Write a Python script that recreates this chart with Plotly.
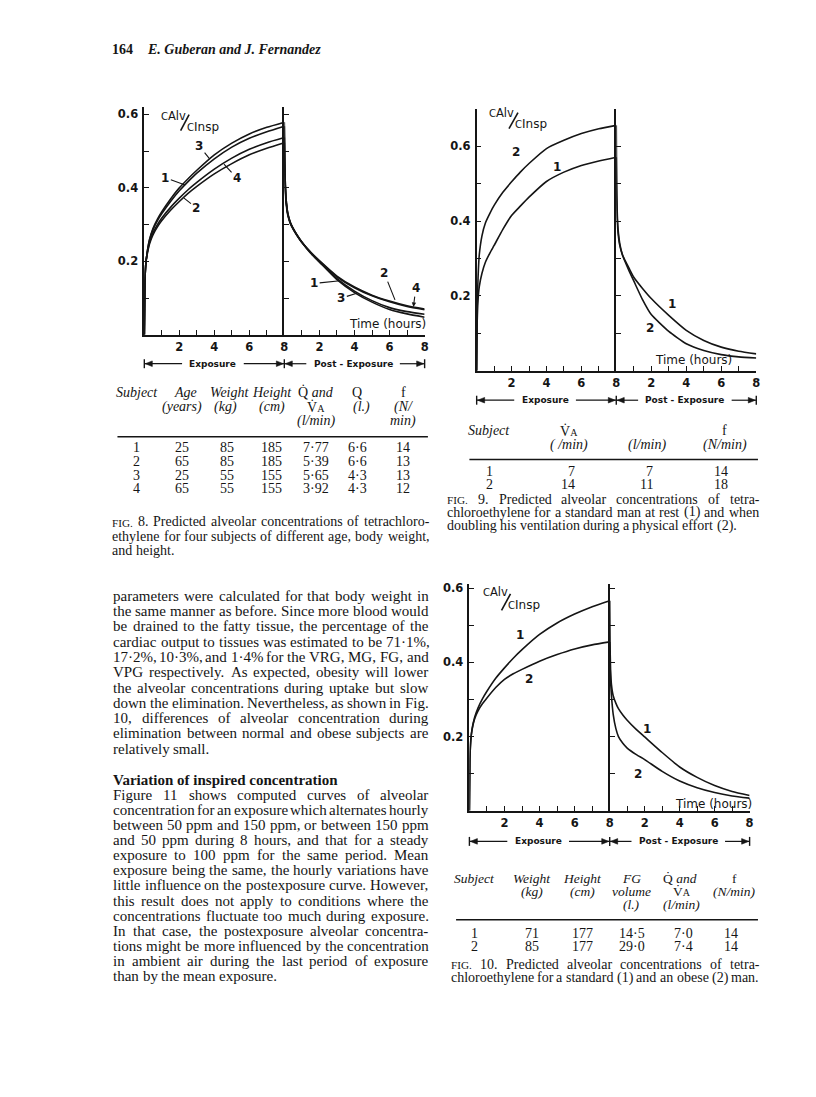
import plotly.graph_objects as go

# The page is photographed with the browser's default 8px body margin,
# so the figure is drawn 8px smaller and all page positions are shifted.
OFF = 8
FIG_W, FIG_H = 808, 1081
INK = "#151515"
SERIF = "Liberation Serif"
SANS = "DejaVu Sans"

# ---------------- data ----------------
exposure_hours = [0, 0.03, 0.08, 0.15, 0.3, 0.5, 0.75, 1, 1.5, 2, 2.5, 3, 4, 5, 6, 7, 8]
post_hours = [0, 0.02, 0.05, 0.1, 0.2, 0.35, 0.5, 0.75, 1, 1.5, 2, 3, 4, 5, 6, 7, 8]

# Fig. 8 - four subjects
fig8_exp_1 = [0, 0.14, 0.19, 0.22, 0.258, 0.287, 0.311, 0.33, 0.363, 0.392, 0.417, 0.44, 0.479, 0.511, 0.535, 0.553, 0.568]
fig8_exp_2 = [0, 0.14, 0.19, 0.215, 0.248, 0.273, 0.294, 0.311, 0.339, 0.363, 0.385, 0.404, 0.438, 0.466, 0.49, 0.508, 0.523]
fig8_exp_3 = [0, 0.14, 0.19, 0.22, 0.26, 0.29, 0.315, 0.335, 0.37, 0.40, 0.425, 0.448, 0.49, 0.522, 0.547, 0.565, 0.579]
fig8_exp_4 = [0, 0.14, 0.19, 0.218, 0.252, 0.278, 0.3, 0.318, 0.347, 0.372, 0.395, 0.415, 0.451, 0.481, 0.505, 0.523, 0.537]
fig8_post_1 = [0.568, 0.48, 0.42, 0.37, 0.33, 0.305, 0.29, 0.27, 0.253, 0.224, 0.2, 0.153, 0.119, 0.093, 0.074, 0.063, 0.056]
fig8_post_2 = [0.523, 0.45, 0.40, 0.36, 0.325, 0.302, 0.288, 0.268, 0.251, 0.224, 0.201, 0.158, 0.128, 0.106, 0.09, 0.077, 0.068]
fig8_post_3 = [0.579, 0.48, 0.42, 0.37, 0.33, 0.305, 0.29, 0.27, 0.252, 0.222, 0.198, 0.15, 0.115, 0.089, 0.069, 0.057, 0.048]
fig8_post_4 = [0.537, 0.46, 0.41, 0.365, 0.328, 0.303, 0.289, 0.269, 0.252, 0.225, 0.202, 0.16, 0.13, 0.108, 0.092, 0.079, 0.07]

# Fig. 9 - rest (1) and doubled ventilation (2)
fig9_exp_1 = [0, 0.13, 0.19, 0.225, 0.26, 0.29, 0.314, 0.335, 0.378, 0.415, 0.44, 0.464, 0.506, 0.531, 0.549, 0.561, 0.571]
fig9_exp_2 = [0, 0.17, 0.25, 0.31, 0.36, 0.395, 0.42, 0.442, 0.477, 0.505, 0.531, 0.554, 0.594, 0.616, 0.634, 0.647, 0.656]
fig9_post_1 = [0.571, 0.47, 0.41, 0.37, 0.335, 0.31, 0.295, 0.272, 0.25, 0.22, 0.193, 0.148, 0.108, 0.081, 0.063, 0.052, 0.045]
fig9_post_2 = [0.656, 0.5, 0.43, 0.38, 0.34, 0.31, 0.292, 0.265, 0.24, 0.19, 0.15, 0.105, 0.072, 0.054, 0.043, 0.037, 0.034]

# Fig. 10 - standard (1) and obese (2) man
fig10_exp_1 = [0, 0.14, 0.19, 0.22, 0.252, 0.278, 0.302, 0.322, 0.357, 0.385, 0.411, 0.434, 0.475, 0.506, 0.53, 0.55, 0.566]
fig10_exp_2 = [0, 0.14, 0.19, 0.218, 0.248, 0.27, 0.289, 0.304, 0.332, 0.354, 0.369, 0.381, 0.403, 0.421, 0.436, 0.447, 0.455]
fig10_post_1 = [0.566, 0.45, 0.38, 0.34, 0.31, 0.29, 0.275, 0.258, 0.244, 0.22, 0.199, 0.157, 0.118, 0.09, 0.068, 0.052, 0.041]
fig10_post_2 = [0.455, 0.4, 0.35, 0.31, 0.26, 0.222, 0.2, 0.182, 0.169, 0.152, 0.138, 0.106, 0.08, 0.062, 0.049, 0.04, 0.034]

hour_tickvals = [1, 2, 3, 4, 5, 6, 7, 8]
hour_ticktext = ["", "2", "", "4", "", "6", "", "8"]
conc_tickvals_6 = [0.1, 0.2, 0.3, 0.4, 0.5, 0.6]
conc_ticktext_6 = ["", "0.2", "", "0.4", "", "0.6"]
conc_tickvals_7 = [0.1, 0.2, 0.3, 0.4, 0.5, 0.6, 0.7]
conc_ticktext_7 = ["", "0.2", "", "0.4", "", "0.6", ""]

# Tables
t8_subject = [1, 2, 3, 4]
t8_age = [25, 65, 25, 65]
t8_weight = [85, 85, 55, 55]
t8_height = [185, 185, 155, 155]
t8_q_va = [7.77, 5.39, 5.65, 3.92]
t8_q = [6.6, 6.6, 4.3, 4.3]
t8_f = [14, 13, 13, 12]

t9_subject = [1, 2]
t9_va = [7, 14]
t9_q = [7, 11]
t9_f = [14, 18]

t10_subject = [1, 2]
t10_weight = [71, 85]
t10_height = [177, 177]
t10_fg = [14.5, 29.0]
t10_q_va = [7.0, 7.4]
t10_f = [14, 14]

# ---------------- helpers ----------------
def px(x):
    return (x - OFF) / FIG_W


def py(y):
    return 1 - (y - OFF) / FIG_H


LOWER = dict(a=444, b=500, c=444, d=500, e=444, f=333, g=500, h=500, i=278, j=278, k=500, l=278, m=778,
             n=500, o=500, p=500, q=500, r=333, s=389, t=278, u=500, v=500, w=722, x=500, y=500, z=444)
UPPER = dict(A=722, B=667, C=667, D=722, E=611, F=556, G=722, H=722, I=333, J=389, K=722, L=611, M=889,
             N=722, O=722, P=556, Q=722, R=667, S=556, T=611, U=722, V=722, W=944, X=722, Y=722, Z=611)
PUNCT = {" ": 250, ".": 250, ",": 250, "-": 333, "(": 333, ")": 333, "%": 833, "\u00b7": 250,
         ":": 278, ";": 278, "'": 333}


def tw(s, size):
    tot = 0
    for ch in s:
        if ch in LOWER:
            tot += LOWER[ch]
        elif ch in UPPER:
            tot += UPPER[ch]
        elif ch.isdigit():
            tot += 500
        else:
            tot += PUNCT.get(ch, 500)
    return tot * size / 1000.0


ann = []
shapes = []


def add_text(x, y, s, size=14, family=SERIF, xanchor="left", color=INK):
    ann.append(dict(x=px(x), y=py(y), xref="paper", yref="paper", text=s, showarrow=False,
                    xanchor=xanchor, yanchor="middle", borderpad=0,
                    font=dict(family=family, size=size, color=color)))


SMALLCAPS = {"FIG."}


def text_line(text, x0, x1, y, size, justify=True):
    words = [w for w in text.split(" ") if w]
    sizes = [size * 0.8 if w in SMALLCAPS else size for w in words]
    widths = [tw(w, s) for w, s in zip(words, sizes)]
    if justify and len(words) > 1:
        gap = (x1 - x0 - sum(widths)) / (len(words) - 1)
    else:
        gap = 0.25 * size
    x = x0
    for w, s, wd in zip(words, sizes, widths):
        add_text(x, y - 1.5 + (0.8 if s < size else 0), w, s)
        x += wd + gap


def hline(x0, x1, y, width=1.4):
    shapes.append(dict(type="line", xref="paper", yref="paper", x0=px(x0), x1=px(x1), y0=py(y), y1=py(y),
                       line=dict(color=INK, width=width)))


def seg(x0, y0, x1, y1, width=1.4):
    shapes.append(dict(type="line", xref="paper", yref="paper", x0=px(x0), x1=px(x1), y0=py(y0), y1=py(y1),
                       line=dict(color=INK, width=width)))


def arrowhead(hx, y, direction):
    # small filled triangle with its tip at (hx, y); direction -1 points left, +1 points right
    bx = hx - direction * 7
    path = (f"M {px(hx)} {py(y)} L {px(bx)} {py(y - 2.8)} L {px(bx)} {py(y + 2.8)} Z")
    shapes.append(dict(type="path", xref="paper", yref="paper", path=path,
                       fillcolor=INK, line=dict(color=INK, width=0.6)))


# ---------------- charts ----------------
fig = go.Figure()

charts = [
    dict(L=145, M=285.7, R=426.7, base=332.7, scale=368.3, ymax=0.62,
         yv=conc_tickvals_6, yt=conc_ticktext_6, row=361.7,
         exp=[fig8_exp_1, fig8_exp_2, fig8_exp_3, fig8_exp_4],
         post=[fig8_post_1, fig8_post_2, fig8_post_3, fig8_post_4],
         time=(389.2, 321.7), calv=(160.5, 113.5), cinsp=(186.5, 124), slash=(181.5, 128, 190, 112)),
    dict(L=479, M=619.3, R=760, base=368.7, scale=375, ymax=0.70,
         yv=conc_tickvals_7, yt=conc_ticktext_7, row=398.3,
         exp=[fig9_exp_1, fig9_exp_2], post=[fig9_post_1, fig9_post_2],
         time=(697.3, 358.3), calv=(490.5, 110.5), cinsp=(516.5, 121.5), slash=(511.5, 126, 520.5, 110)),
    dict(L=471.7, M=612.7, R=753.3, base=810, scale=372.2, ymax=0.61,
         yv=conc_tickvals_6, yt=conc_ticktext_6, row=840.7,
         exp=[fig10_exp_1, fig10_exp_2], post=[fig10_post_1, fig10_post_2],
         time=(717, 803.3), calv=(484, 590.5), cinsp=(509, 603.5), slash=(504, 609, 513, 592.5)),
]

tickfont = dict(family=SANS, size=11.5, color=INK, weight="bold")
layout_axes = {}
for k, c in enumerate(charts):
    top = c["base"] - c["ymax"] * c["scale"]
    ydom = [py(c["base"]), py(top)]
    for j, (x0, x1) in enumerate([(c["L"], c["M"]), (c["M"], c["R"])]):
        idx = 2 * k + j + 1
        xname = "xaxis" if idx == 1 else f"xaxis{idx}"
        yname = "yaxis" if idx == 1 else f"yaxis{idx}"
        xid = "x" if idx == 1 else f"x{idx}"
        yid = "y" if idx == 1 else f"y{idx}"
        layout_axes[xname] = dict(domain=[px(x0), px(x1)], range=[0, 8], anchor=yid,
                                  showline=True, linecolor=INK, linewidth=1.6, showgrid=False, zeroline=False,
                                  ticks="inside", ticklen=5, tickwidth=1.3, tickcolor=INK,
                                  tickmode="array", tickvals=hour_tickvals, ticktext=hour_ticktext,
                                  tickfont=tickfont, ticklabelstandoff=1, fixedrange=True)
        layout_axes[yname] = dict(domain=ydom, range=[0, c["ymax"]], anchor=xid,
                                  showline=True, linecolor=INK, linewidth=1.6, showgrid=False, zeroline=False,
                                  ticks="inside", ticklen=5, tickwidth=1.3, tickcolor=INK,
                                  tickmode="array", tickvals=c["yv"],
                                  ticktext=c["yt"] if j == 0 else [""] * len(c["yv"]),
                                  showticklabels=(j == 0),
                                  tickfont=tickfont, ticklabelstandoff=2, fixedrange=True)
        series = c["exp"] if j == 0 else c["post"]
        hours = exposure_hours if j == 0 else post_hours
        for s in series:
            fig.add_trace(go.Scatter(x=hours, y=s, xaxis=xid, yaxis=yid, mode="lines",
                                     line=dict(color=INK, width=1.6, shape="spline", smoothing=0.5),
                                     hoverinfo="skip", showlegend=False))

    # Time (hours)
    add_text(c["time"][0], c["time"][1], "Time (hours)", size=12, family=SANS, xanchor="center")
    # C_Alv / C_Insp
    add_text(c["calv"][0], c["calv"][1], "<span style='font-size:10px'>C</span>Alv", size=11.5, family=SANS)
    add_text(c["cinsp"][0], c["cinsp"][1], "<span style='font-size:10px'>C</span>Insp", size=12, family=SANS)
    sx0, sy0, sx1, sy1 = c["slash"]
    seg(sx0, sy0, sx1, sy1, width=1.6)

    # Exposure / Post-Exposure arrows
    L, M, R, yr = c["L"], c["M"], c["R"], c["row"]
    for xb in (L, M, R):
        seg(xb, yr - 4.5, xb, yr + 4.5, width=1.4)
    ce = L + 0.49 * (M - L)
    cp = M + 0.49 * (R - M)
    add_text(ce, yr, "<b>Exposure</b>", size=9, family=SANS, xanchor="center")
    add_text(cp, yr, "<b>Post - Exposure</b>", size=9, family=SANS, xanchor="center")
    hline(L, ce - 31, yr, 1.2)
    hline(ce + 31, M, yr, 1.2)
    hline(M, cp - 47, yr, 1.2)
    hline(cp + 47, R, yr, 1.2)
    arrowhead(L + 1, yr, -1)
    arrowhead(M - 1, yr, 1)
    arrowhead(M + 1, yr, -1)
    arrowhead(R - 1, yr, 1)

fig.update_layout(**layout_axes)

# curve labels (data coordinates)
def curve_label(xid, yid, text, tx, ty, hx=None, hy=None, head=0):
    d = dict(xref=xid, yref=yid, text=f"<b>{text}</b>", font=dict(family=SANS, size=12, color=INK))
    if hx is None:
        d.update(x=tx, y=ty, showarrow=False)
    else:
        d.update(x=hx, y=hy, ax=tx, ay=ty, axref=xid, ayref=yid, showarrow=True,
                 arrowhead=head, arrowsize=0.8, arrowwidth=1.1, arrowcolor=INK, standoff=0)
    ann.append(d)


curve_label("x", "y", "3", 3.13, 0.515, 3.73, 0.479)
curve_label("x", "y", "1", 1.2, 0.428, 2.33, 0.408)
curve_label("x", "y", "4", 5.3, 0.426, 4.55, 0.465)
curve_label("x", "y", "2", 2.98, 0.345, 2.27, 0.372)
curve_label("x2", "y2", "1", 1.7, 0.14, 3.18, 0.147)
curve_label("x2", "y2", "3", 3.25, 0.1, 4.13, 0.113)
curve_label("x2", "y2", "2", 5.7, 0.168, 6.31, 0.095)
curve_label("x2", "y2", "4", 7.5, 0.127, 7.36, 0.076, head=2)

curve_label("x3", "y3", "2", 2.28, 0.585)
curve_label("x3", "y3", "1", 4.62, 0.545)
curve_label("x4", "y4", "1", 3.17, 0.179)
curve_label("x4", "y4", "2", 1.94, 0.114)

curve_label("x5", "y5", "1", 2.89, 0.473)
curve_label("x5", "y5", "2", 3.4, 0.354)
curve_label("x6", "y6", "1", 2.12, 0.219)
curve_label("x6", "y6", "2", 1.64, 0.0985)

# ---------------- page header ----------------
add_text(111.7, 46.5, "<b>164</b>", size=14)
add_text(146.7, 46.5, "<b><i>E. Guberan and J. Fernandez</i></b>", size=14)


def dec(v, n):
    return f"{v:.{n}f}".replace(".", "\u00b7")


VA = "V\u0307<span style='font-size:10px'>A</span>"

# ---------------- Fig. 8 table ----------------
h8 = [(137.5, "<i>Subject</i>"), (186, "<i>Age</i>"), (230.7, "<i>Weight</i>"), (273, "<i>Height</i>"),
      (318, "Q\u0307 <i>and</i>"), (359, "Q"), (405, "f")]
for x, s in h8:
    add_text(x, 390.5, s, size=14, xanchor="center")
h8b = [(182.7, "<i>(years)</i>"), (226.7, "<i>(kg)</i>"), (273, "<i>(cm)</i>"), (318, VA),
       (363, "<i>(l.)</i>"), (405, "<i>(N/</i>")]
for x, s in h8b:
    add_text(x, 405.5, s, size=14, xanchor="center")
add_text(318, 419.5, "<i>(l/min)</i>", size=14, xanchor="center")
add_text(405, 419.5, "<i>min)</i>", size=14, xanchor="center")
hline(118, 430, 435, 1.5)
for i in range(4):
    y = 445.5 + i * 13.9
    add_text(137.3, y, str(t8_subject[i]), 14, xanchor="center")
    add_text(183, y, str(t8_age[i]), 14, xanchor="center")
    add_text(227.7, y, str(t8_weight[i]), 14, xanchor="center")
    add_text(273, y, str(t8_height[i]), 14, xanchor="center")
    add_text(318, y, dec(t8_q_va[i], 2), 14, xanchor="center")
    add_text(359, y, dec(t8_q[i], 1), 14, xanchor="center")
    add_text(405, y, str(t8_f[i]), 14, xanchor="center")

text_line("FIG. 8.  Predicted alveolar concentrations of tetrachloro-", 111.7, 430, 521.7, 14)
text_line("ethylene for four subjects of different age, body weight,", 111.7, 430, 536.2, 14)
text_line("and height.", 111.7, 430, 550.5, 14, justify=False)

# ---------------- Fig. 9 table ----------------
add_text(491.7, 429, "<i>Subject</i>", 14, xanchor="center")
add_text(571.7, 429, VA, 14, xanchor="center")
add_text(728.3, 429, "f", 14, xanchor="center")
add_text(571.7, 443, "<i>( /min)</i>", 14, xanchor="center")
add_text(650, 443, "<i>(l/min)</i>", 14, xanchor="center")
add_text(728.3, 443, "<i>(N/min)</i>", 14, xanchor="center")
hline(471.7, 761.7, 457.7, 1.5)
for i in range(2):
    y = 470 + i * 13.3
    add_text(491.7, y, str(t9_subject[i]), 14, xanchor="center")
    add_text(578.5, y, str(t9_va[i]), 14, xanchor="right")
    add_text(657.5, y, str(t9_q[i]), 14, xanchor="right")
    add_text(725, y, str(t9_f[i]), 14, xanchor="center")

text_line("FIG. 9. Predicted alveolar concentrations of tetra-", 448.3, 761.7, 499, 14)
text_line("chloroethylene for a standard man at rest (1) and when", 448.3, 761.7, 512.3, 14)
text_line("doubling his ventilation during a physical effort (2).", 448.3, 761.7, 525.7, 14, justify=False)

# ---------------- Fig. 10 table ----------------
h10 = [(477.3, "<i>Subject</i>"), (534.3, "<i>Weight</i>"), (585, "<i>Height</i>"), (635, "<i>FG</i>"),
       (683.3, "Q\u0307 <i>and</i>"), (737.7, "f")]
for x, s in h10:
    add_text(x, 877.5, s, 13.5, xanchor="center")
h10b = [(534.3, "<i>(kg)</i>"), (585, "<i>(cm)</i>"), (635, "<i>volume</i>"), (685, VA),
        (737.7, "<i>(N/min)</i>")]
for x, s in h10b:
    add_text(x, 890.5, s, 13.5, xanchor="center")
add_text(635, 904, "<i>(l.)</i>", 13.5, xanchor="center")
add_text(685, 904, "<i>(l/min)</i>", 13.5, xanchor="center")
hline(458.3, 761.7, 919.3, 1.5)
for i in range(2):
    y = 933.3 + i * 12.6
    add_text(477.3, y, str(t10_subject[i]), 14, xanchor="center")
    add_text(534.3, y, str(t10_weight[i]), 14, xanchor="center")
    add_text(585, y, str(t10_height[i]), 14, xanchor="center")
    add_text(635, y, dec(t10_fg[i], 1), 14, xanchor="center")
    add_text(686.7, y, dec(t10_q_va[i], 1), 14, xanchor="center")
    add_text(735, y, str(t10_f[i]), 14, xanchor="center")

text_line("FIG. 10. Predicted alveolar concentrations of tetra-", 451.7, 761.7, 965.7, 14)
text_line("chloroethylene for a standard (1) and an obese (2) man.", 451.7, 761.7, 979, 14)

# ---------------- body text ----------------
para1 = [
    "parameters were calculated for that body weight in",
    "the same manner as before. Since more blood would",
    "be drained to the fatty tissue, the percentage of the",
    "cardiac output to tissues was estimated to be 71\u00b71%,",
    "17\u00b72%, 10\u00b73%, and 1\u00b74% for the VRG, MG, FG, and",
    "VPG respectively. As expected, obesity will lower",
    "the alveolar concentrations during uptake but slow",
    "down the elimination. Nevertheless, as shown in Fig.",
    "10, differences of alveolar concentration during",
    "elimination between normal and obese subjects are",
    "relatively small.",
]
for i, s in enumerate(para1):
    text_line(s, 112.7, 429.3, 596 + i * 15.33, 15, justify=(i < len(para1) - 1))

add_text(112.7, 779.5, "<b>Variation of inspired concentration</b>", size=15)
para2 = [
    "Figure 11 shows computed curves of alveolar",
    "concentration for an exposure which alternates hourly",
    "between 50 ppm and 150 ppm, or between 150 ppm",
    "and 50 ppm during 8 hours, and that for a steady",
    "exposure to 100 ppm for the same period. Mean",
    "exposure being the same, the hourly variations have",
    "little influence on the postexposure curve. However,",
    "this result does not apply to conditions where the",
    "concentrations fluctuate too much during exposure.",
    "In that case, the postexposure alveolar concentra-",
    "tions might be more influenced by the concentration",
    "in ambient air during the last period of exposure",
    "than by the mean exposure.",
]
for i, s in enumerate(para2):
    text_line(s, 112.7, 429.3, 795.3 + i * 15.17, 15, justify=(i < len(para2) - 1))

fig.update_layout(width=FIG_W, height=FIG_H, margin=dict(l=0, r=0, t=0, b=0),
                  paper_bgcolor="white", plot_bgcolor="white", showlegend=False,
                  annotations=ann, shapes=shapes)

fig.write_html("out.html")
